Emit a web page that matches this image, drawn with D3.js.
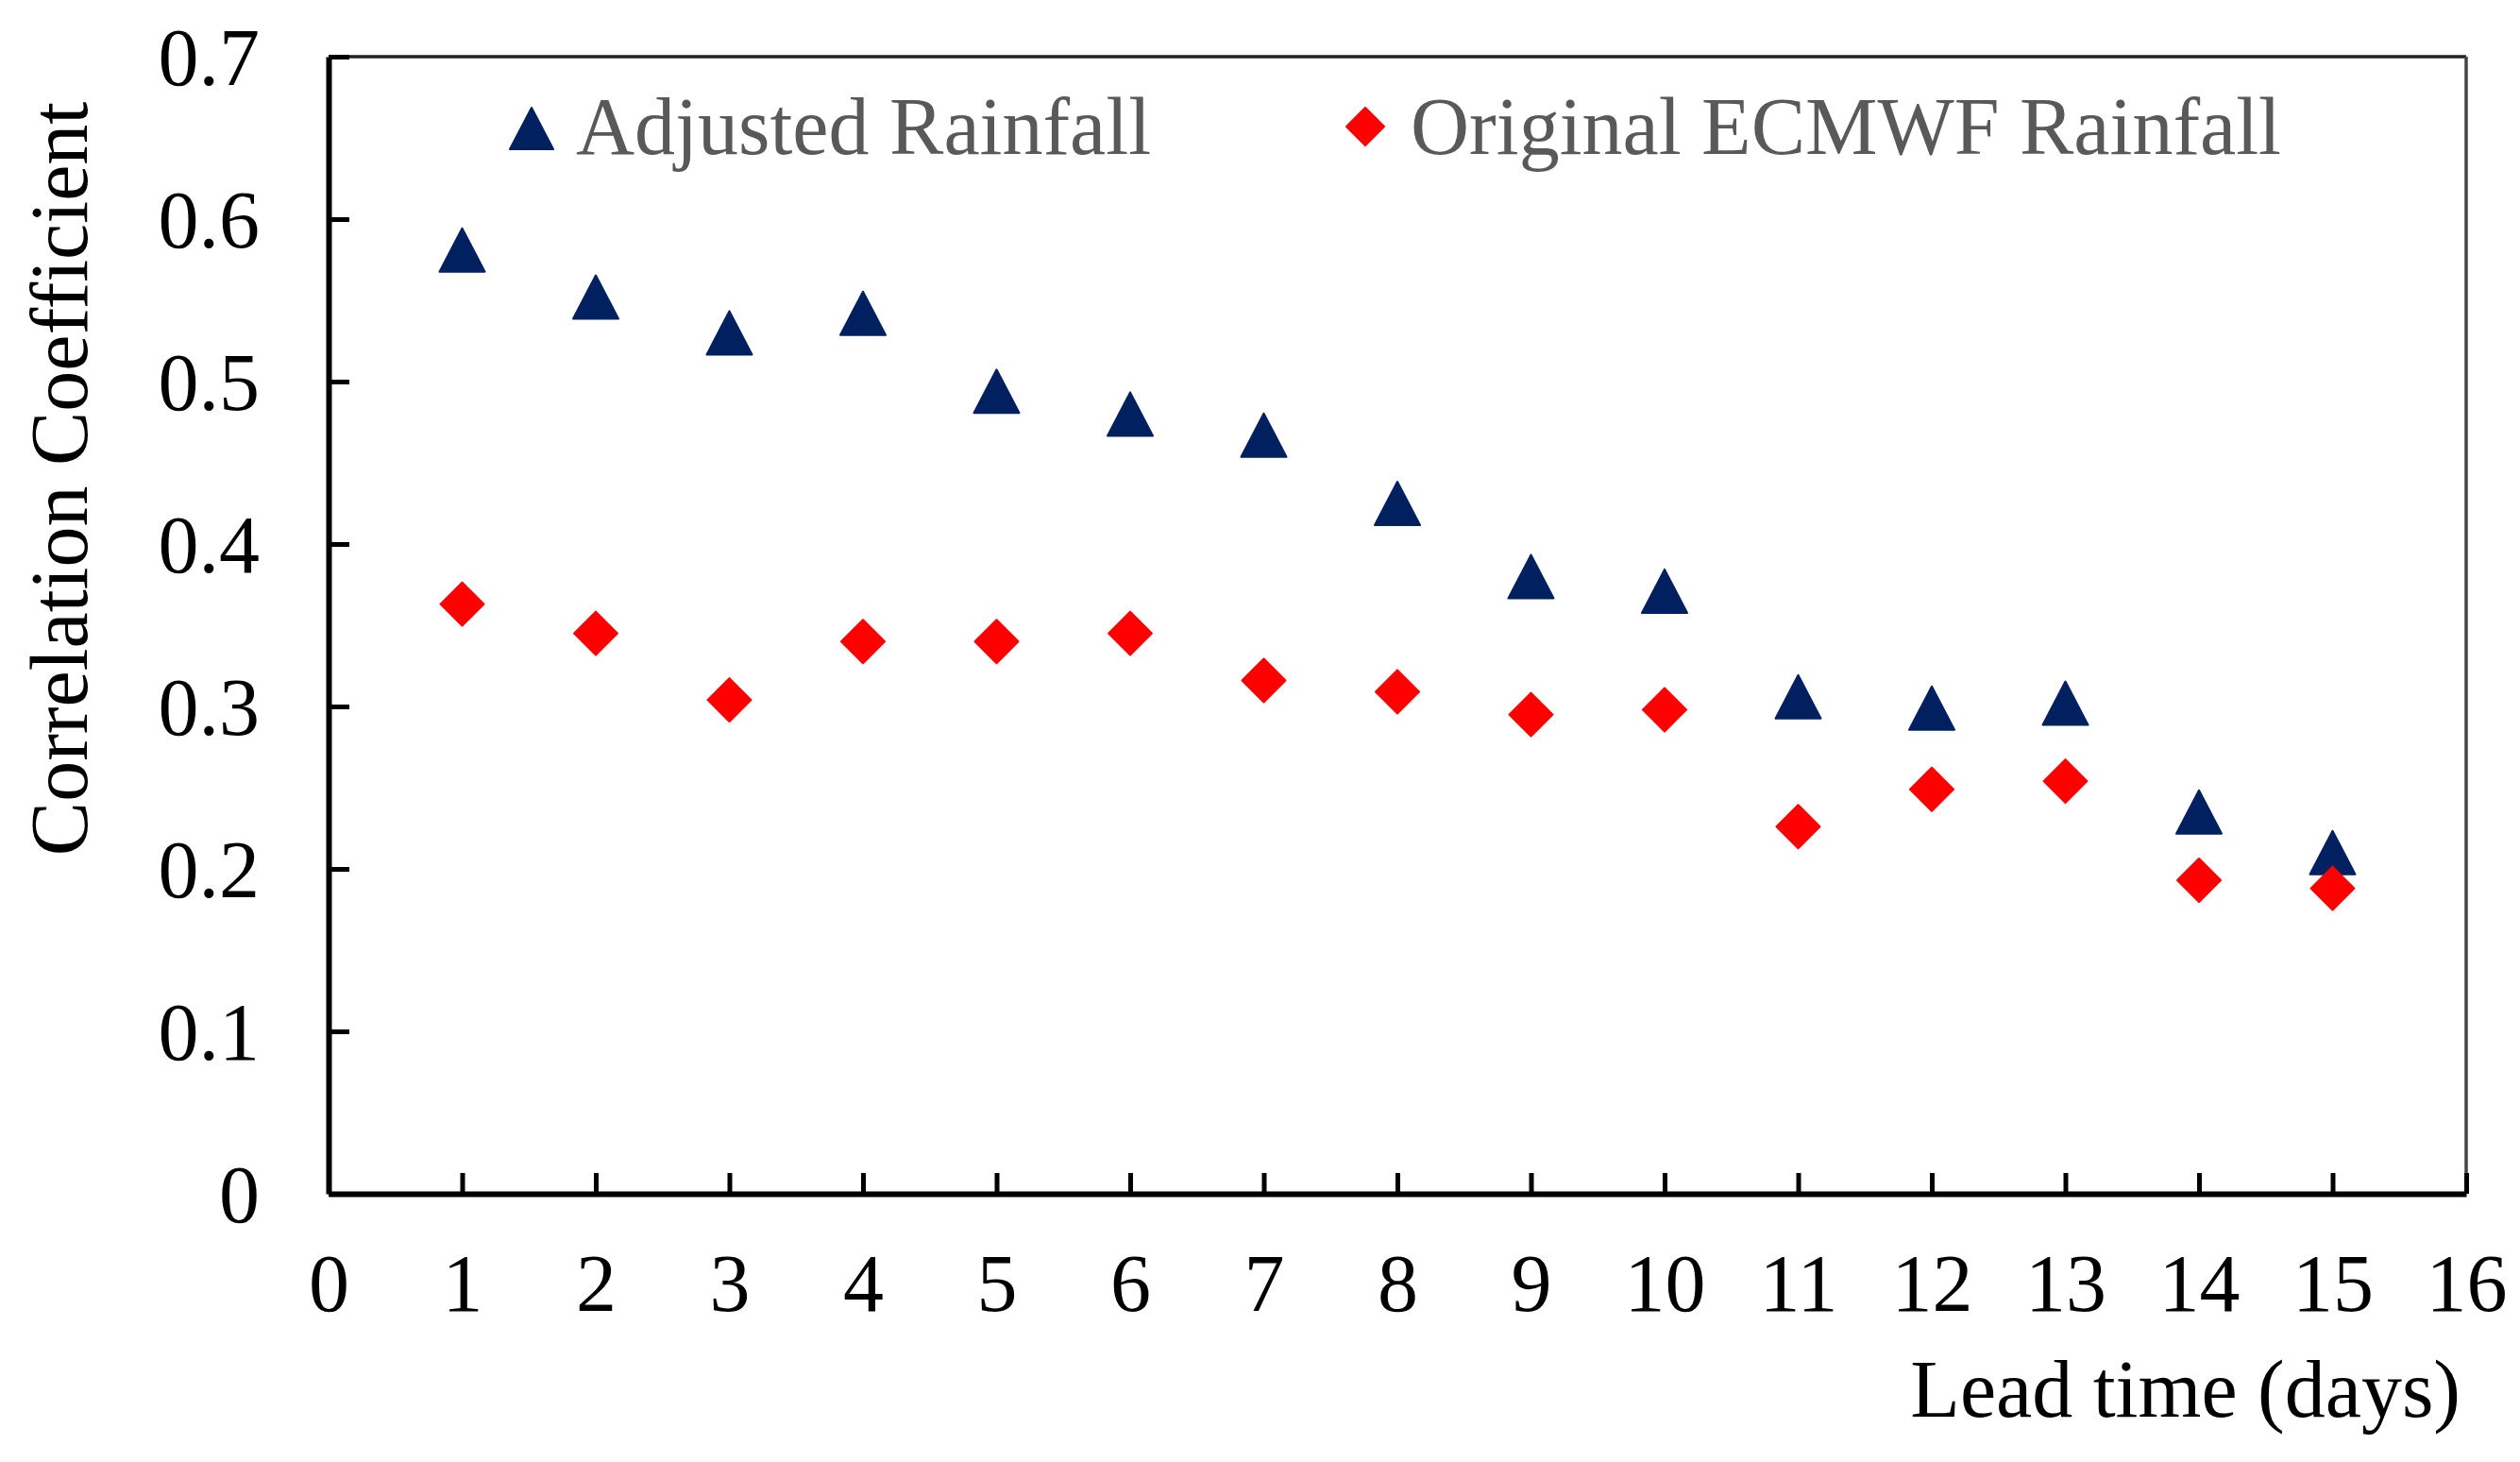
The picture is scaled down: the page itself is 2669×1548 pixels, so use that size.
<!DOCTYPE html>
<html>
<head>
<meta charset="utf-8">
<script src="https://cdn.jsdelivr.net/npm/d3@7"></script>
<style>
    body { margin: 0; background: #fff; }
    svg { display: block; }
    text { font-family: "Liberation Serif", "Times New Roman", serif; }
</style>
</head>
<body>
<div id="chart"></div>
<script>
// lead time in days
const leadDays = [1, 2, 3, 4, 5, 6, 7, 8, 9, 10, 11, 12, 13, 14, 15];
const adjustedRainfall = [0.581, 0.552, 0.530, 0.542, 0.494, 0.480, 0.467, 0.425,
    0.380, 0.371, 0.306, 0.299, 0.302, 0.235, 0.210];
const originalRainfall = [0.363, 0.345, 0.304, 0.340, 0.340, 0.345, 0.316, 0.309,
    0.295, 0.298, 0.226, 0.249, 0.254, 0.193, 0.188];
const xTicks = d3.range(0, 17);
const yTicks = [0, 0.1, 0.2, 0.3, 0.4, 0.5, 0.6, 0.7];
const seriesNames = ["Adjusted Rainfall", "Original ECMWF Rainfall"];

const width = 2669, height = 1548;
const margin = { left: 348, right: 57, top: 60, bottom: 284 };
const innerW = width - margin.left - margin.right;
const innerH = height - margin.top - margin.bottom;
const fontSize = 86;

const svg = d3.select("#chart").append("svg")
    .attr("width", width)
    .attr("height", height)
    .attr("viewBox", [0, 0, width, height]);

const g = svg.append("g")
    .attr("transform", `translate(${margin.left}, ${margin.top})`);

const xScale = d3.scaleLinear().domain([0, 16]).range([0, innerW]);
const yScale = d3.scaleLinear().domain([0, 0.7]).range([innerH, 0]);

// frame: top and right are thinner
g.append("line")
    .attr("x1", 0).attr("x2", innerW).attr("y1", 0).attr("y2", 0)
    .attr("stroke", "#222").attr("stroke-width", 3.5);
g.append("line")
    .attr("x1", innerW).attr("x2", innerW).attr("y1", 0).attr("y2", innerH)
    .attr("stroke", "#444").attr("stroke-width", 3.5);

// axes with inward ticks
const xAxisCall = d3.axisBottom(xScale).tickValues(xTicks)
    .tickSizeInner(-22).tickSizeOuter(0).tickPadding(0).tickFormat(d3.format("d"));
const xAxisGroup = g.append("g")
    .attr("transform", `translate(0, ${innerH})`)
    .call(xAxisCall);
xAxisGroup.select(".domain").attr("stroke", "#000").attr("stroke-width", 6);
xAxisGroup.selectAll(".tick line").attr("stroke", "#000").attr("stroke-width", 5);
xAxisGroup.selectAll(".tick text")
    .attr("y", 124).attr("dy", 0)
    .attr("font-size", fontSize).attr("fill", "#000");

const yAxisCall = d3.axisLeft(yScale).tickValues(yTicks)
    .tickSizeInner(-22).tickSizeOuter(0).tickPadding(0)
    .tickFormat(d => d === 0 ? "0" : d3.format(".1f")(d));
const yAxisGroup = g.append("g").call(yAxisCall);
yAxisGroup.select(".domain").attr("stroke", "#000").attr("stroke-width", 6);
yAxisGroup.selectAll(".tick line").attr("stroke", "#000").attr("stroke-width", 5);
yAxisGroup.selectAll(".tick text")
    .attr("x", -73).attr("dy", "0.34em")
    .attr("font-size", fontSize).attr("fill", "#000");

// marker shapes (relative to the point)
const triangle = (w, h) => `M0,${-h / 2}L${w / 2},${h / 2}L${-w / 2},${h / 2}Z`;
const diamond = (w, h) => `M0,${-h / 2}L${w / 2},0L0,${h / 2}L${-w / 2},0Z`;

const adjData = leadDays.map((d, i) => ({ day: d, value: adjustedRainfall[i] }));
const orgData = leadDays.map((d, i) => ({ day: d, value: originalRainfall[i] }));

g.append("g").selectAll("path").data(adjData).join("path")
    .attr("d", triangle(48, 46))
    .attr("stroke", "#002060").attr("stroke-width", 2).attr("stroke-linejoin", "round")
    .attr("fill", "#002060")
    .attr("transform", d => `translate(${xScale(d.day)}, ${yScale(d.value)})`);

g.append("g").selectAll("path").data(orgData).join("path")
    .attr("d", diamond(46, 46))
    .attr("stroke", "#ff0000").attr("stroke-width", 2).attr("stroke-linejoin", "round")
    .attr("fill", "#ff0000")
    .attr("transform", d => `translate(${xScale(d.day)}, ${yScale(d.value)})`);

// legend
const legend = svg.append("g");
legend.append("path")
    .attr("d", triangle(46, 44))
    .attr("fill", "#002060").attr("stroke", "#002060").attr("stroke-width", 2)
    .attr("stroke-linejoin", "round")
    .attr("transform", "translate(563, 136)");
legend.append("text")
    .attr("x", 610).attr("y", 163)
    .attr("font-size", fontSize).attr("fill", "#595959")
    .text(seriesNames[0]);
legend.append("path")
    .attr("d", diamond(40, 40))
    .attr("fill", "#ff0000").attr("stroke", "#ff0000").attr("stroke-width", 2)
    .attr("stroke-linejoin", "round")
    .attr("transform", "translate(1446, 134)");
legend.append("text")
    .attr("x", 1494).attr("y", 163)
    .attr("font-size", fontSize).attr("fill", "#595959")
    .text(seriesNames[1]);

// axis titles
svg.append("text")
    .attr("transform", "translate(92, 507) rotate(-90)")
    .attr("text-anchor", "middle")
    .attr("font-size", fontSize).attr("fill", "#000")
    .text("Correlation Coefficient");

svg.append("text")
    .attr("x", 2606).attr("y", 1500)
    .attr("text-anchor", "end")
    .attr("font-size", fontSize).attr("fill", "#000")
    .text("Lead time (days)");
</script>
</body>
</html>
